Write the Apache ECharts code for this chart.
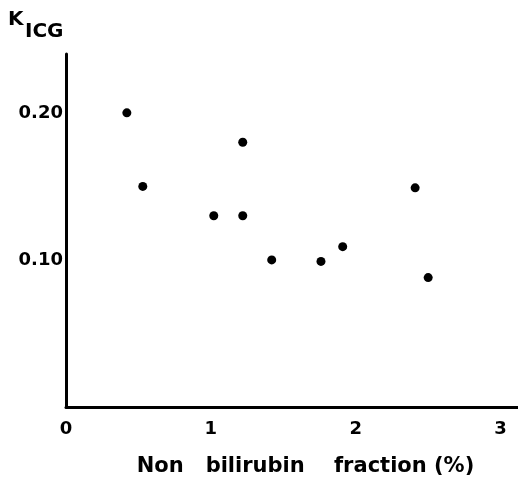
<!DOCTYPE html>
<html><head><meta charset="utf-8">
<script src="https://cdn.jsdelivr.net/npm/echarts@6/dist/echarts.min.js"></script>
<style>html,body{margin:0;padding:0;background:#fff}#c{width:518px;height:478px}</style>
</head><body><div id="c"></div>
<script>
var xValues = [0.42, 0.53, 1.22, 1.02, 1.22, 1.42, 1.76, 1.91, 2.41, 2.50];
var yValues = [0.200, 0.150, 0.180, 0.130, 0.130, 0.100, 0.099, 0.109, 0.149, 0.088];
var xTicks = [0, 1, 2, 3];
var yTicks = [0.10, 0.20];

var pts = xValues.map(function (x, i) { return [x, yValues[i]]; });
var wide = '"DejaVu Sans", sans-serif';
var chart = echarts.init(document.getElementById('c'));
chart.setOption({
  animation: false,
  backgroundColor: '#fff',
  grid: { left: 66, right: 0, top: 54, bottom: 71, outerBoundsMode: 'none', containLabel: false },
  graphic: [
    { type: 'text', left: 8, top: 10, style: { text: 'K', fontFamily: wide, fontWeight: 'bold', fontSize: 20, fill: '#000' } },
    { type: 'text', left: 25, top: 22, style: { text: 'ICG', fontFamily: wide, fontWeight: 'bold', fontSize: 20, fill: '#000' } }
  ],
  xAxis: {
    type: 'value', min: 0, max: 3.12, interval: 1,
    name: 'Non   bilirubin    fraction (%)',
    nameLocation: 'middle', nameGap: 49,
    nameTextStyle: { fontFamily: wide, fontWeight: 'bold', fontSize: 21, color: '#000', padding: [0, 0, 0, 27] },
    axisLine: { lineStyle: { color: '#000', width: 3 } },
    axisTick: { show: false },
    splitLine: { show: false },
    axisLabel: {
      margin: 13, fontFamily: wide, fontWeight: 'bold', fontSize: 18, color: '#000',
      formatter: function (v) {
        return xTicks.indexOf(Number(v)) >= 0 ? String(v) : '';
      }
    }
  },
  yAxis: {
    type: 'value', min: 0, max: 0.24, interval: 0.1,
    axisLine: { show: true, lineStyle: { color: '#000', width: 3 } },
    axisTick: { show: false },
    splitLine: { show: false },
    axisLabel: {
      margin: 3, fontFamily: wide, fontWeight: 'bold', fontSize: 18, color: '#000',
      formatter: function (v) {
        for (var i = 0; i < yTicks.length; i++) if (Math.abs(yTicks[i] - v) < 1e-9) return yTicks[i].toFixed(2);
        return '';
      }
    }
  },
  series: [{
    type: 'scatter', data: pts, symbol: 'circle', symbolSize: 9,
    itemStyle: { color: '#000', opacity: 1 }
  }]
});
</script></body></html>
